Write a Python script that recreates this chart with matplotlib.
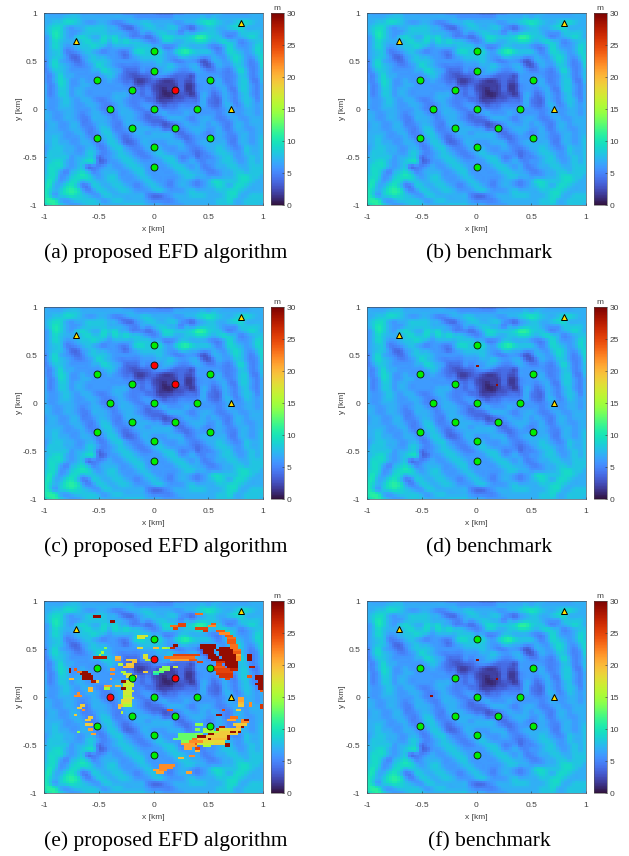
import numpy as np
import matplotlib
matplotlib.use("Agg")
import matplotlib.pyplot as plt

W, H = 629, 856
# base error field, hex digit per cell (digit - 1 = metres); rows y=1..-1, cols x=-1..1, step 0.05
field_rows = [
"8777788777 7777766666 6 5556677777 7877777888",
"8888999888 8888888777 7 7778888898 9888888888",
"8899aa9877 8876678899 8 8887788 9ab a988 9aa988",
"89aa878899 9988655789 9 8899765789 988 9aa8888",
"89ba877899 9988876687 8 9988687899 9877799998",
"78ba879a98 8a9a886665 6 8aa999acca 9976789a98",
"78a98889a9 9a8a9a9987 6 7998899aa9 89a9867899",
"78a977899a 9878888999 8 8667998887 668a877 8a9",
"7899667898 7677668aa9 a a879bca999 768a9878a9",
"7899755789 8877657899 9 9877998877 8779a9779a",
"68a8765689 9987777788 8 9876677645 887 8a9768a",
"68a9876678 a987666677 7 8898778854 6877997 67a",
"6799877778 8a98755576 7 7887667876 6766 8a8679",
"768a887777 7898654455 6 7765554777 776679 8679",
"768a977877 7787655334 5 4334544777 7866799669",
"867a977887 7777766445 4 3333533677 7876799768",
"8679978877 7777776656 4 3233533677 6786699768",
"8679978877 7778886656 5 3223443587 5687689768",
"8778987887 6678876665 5 3334455586 5587689868",
"8778987788 7667876677 6 5455666686 5588679878",
"8778887778 7667887667 7 7666777777 6678778878",
"8877887678 8766888765 6 7877787777 7678778878",
"8877887668 8876788765 5 5688876788 7667877888",
"7887788667 8876688876 5 5456787787 8766887888",
"7887788766 8986678888 7 7555678887 7866887788",
"8888778866 7997667887 8 8886567876 7876788788",
"8898777876 7898656788 8 8887656777 7876688789",
"8898877887 6799755688 7 7788866788 8886688789",
"7899887788 6689976678 8 8777876678 8987679889",
"7999887799 7678987667 8 9877776567 8998779889",
"8999978899 5678998766 7 8998667566 7899778989",
"89aa8789aa 5577899877 7 7899778767 7899878989",
"8aaa878956 6787789987 7 7789987866 7889988999",
"8aa8689a86 7888778997 7 7778998876 6788998999",
"9aa779aba8 7899777898 7 7777899887 7788 9aa998",
"9b978aa899 8899877789 8 7767887678 aa999aa988",
"ab88ab9669 9889987678 9 8767887678 9a98aa9888",
"ba89bcb867 9988998777 8 9877789888 89 9aa98888",
"ba79aba987 7998888886 5 5678889998 889aa88999",
"bcb8789999 8789988887 6 6667888888 899a889999",
"abca877899 9888899998 8 8777788888 8999889998",
]
field_digits = [[int(ch, 16) - 1 for ch in row.replace(" ", "")[:41].ljust(41, "8")] for row in field_rows]
field = np.array(field_digits, dtype=float)
grid_axis = np.linspace(-1, 1, 41)

# anomaly runs for panel (e): y, x start, x end, error in m
runs_e = [
 # upper right blobs
 (.525,.43,.56,29),(.5,.44,.575,29),(.5,.6,.68,29),(.475,.455,.545,29),(.475,.59,.71,29),
 (.45,.47,.545,29),(.45,.62,.73,29),(.425,.5,.575,29),(.425,.62,.74,29),(.4,.52,.6,29),(.4,.64,.76,29),
 (.375,.54,.64,29),(.375,.65,.76,29),(.35,.575,.65,26),(.35,.65,.76,29),(.325,.59,.625,25),(.325,.65,.76,29),
 (.3,.56,.65,24),(.3,.68,.76,29),(.275,.56,.68,25),(.275,.71,.76,27),(.25,.59,.71,25),(.225,.59,.71,26),
 (.2,.62,.71,26),(.175,.65,.7,25),
 # upper ring
 (.85,.39,.43,23),(.75,.24,.3,25),(.725,.24,.3,25),(.725,.16,.21,23),(.7,.18,.21,25),(.7,.38,.41,25),(.7,.43,.5,25),
 (.75,.53,.56,24),(.725,.5,.575,22),(.675,.47,.5,26),(.675,.575,.65,24),(.65,.62,.68,22),(.625,.65,.71,24),
 (.6,.68,.73,23),(.575,.68,.74,24),(.55,.68,.74,24),(.525,.71,.76,23),(.5,.71,.76,23),(.475,.74,.79,23),(.45,.74,.79,24),
 (.425,.76,.8,21),(.4,.77,.8,22),(.375,.77,.8,22),
 (.425,.87,.9,29),(.4,.87,.9,29),(.375,.87,.9,29),(.3,.89,.92,28),(.2,.87,.9,24),
 (.2,.94,1.0,29),(.175,.94,1.0,29),(.15,.96,1.0,29),(.125,.94,1.0,29),(.1,.96,1.0,29),(.075,.96,1.0,29),(.05,.98,1.0,24),
 # mid bar
 (.425,.18,.41,25),(.4,.12,.36,23),(.375,.17,.32,21),(.375,.33,.38,24),(.35,.41,.43,25),
 (.525,.19,.21,29),(.5,.17,.19,27),(.5,.12,.14,14),(.5,.09,.115,16),(.5,0,.04,20),
 (.3,.085,.145,14),(.275,.07,.15,14),(.25,0,.1,12),(.225,0,.05,10),(.3,.19,.21,17),
 # upper left
 (.825,-.53,-.485,29),(.775,-.38,-.36,29),(.625,-.135,-.07,17),(.6,-.135,-.08,17),(.5,-.45,-.43,14),
 (.45,-.475,-.45,15),(.425,-.5,-.48,16),(.4,-.53,-.43,28),(.5,-.135,-.115,18),(.4,-.35,-.31,20),(.4,-.1,-.06,18),
 (.425,-.1,-.07,17),(.375,-.34,-.31,21),(.375,-.23,-.17,19),(.375,-.06,-.02,16),(.35,-.2,-.17,20),(.325,-.32,-.28,16),
 (.325,-.23,-.18,19),(.3,-.27,-.18,20),(.275,-.77,-.75,29),(.275,-.72,-.7,24),(.275,-.38,-.36,22),(.25,-.77,-.75,29),
 (.25,-.69,-.67,23),(.25,-.64,-.62,29),(.25,-.29,-.26,15),(.25,-.09,-.07,19),(.225,-.67,-.58,29),(.225,-.38,-.36,22),
 (.225,-.26,-.2,17),(.2,-.63,-.56,29),(.2,-.23,-.16,18),(.175,-.63,-.55,29),(.175,-.76,-.74,20),(.175,-.4,-.38,21),
 (.15,-.56,-.52,28),(.15,-.52,-.5,19),(.15,-.28,-.25,29),(.15,-.25,-.2,17),(.125,-.27,-.18,16),(.1,-.45,-.38,21),
 (.1,-.35,-.32,20),(.1,-.27,-.18,17),(.075,-.58,-.56,20),(.075,-.44,-.41,15),(.075,-.28,-.26,29),(.075,-.24,-.2,16),
 (.05,-.58,-.56,20),(.05,-.27,-.18,17),(.025,-.7,-.68,22),(.025,-.27,-.2,17),
 (.02,-.71,-.68,22),(0,-.68,-.65,22),(0,-.27,-.2,16),(-.025,-.27,-.18,17),(-.05,-.28,-.2,18),(-.075,-.3,-.22,17),
 (-.1,-.32,-.28,20),(-.1,-.27,-.22,15),(-.125,-.32,-.3,19),(-.175,-.3,-.28,16),
 (-.1,-.66,-.64,19),(-.125,-.7,-.65,19),(-.15,-.65,-.63,22),(-.2,-.72,-.7,19),(-.225,-.6,-.57,19),(-.25,-.62,-.58,19),
 (-.3,-.62,-.55,19),(-.35,-.6,-.55,21),(-.4,-.57,-.54,21),(-.375,-.7,-.68,14),
 # lower right
 (-.25,.82,.86,22),(-.25,.83,.855,29),(-.275,.82,.86,22),(-.3,.73,.83,19),(-.325,.77,.82,20),(-.325,.62,.65,28),
 (-.325,.8,.825,29),(-.35,.68,.7,29),(-.35,.45,.55,15),(-.35,.59,.73,18),(-.35,.72,.79,19),(-.35,.575,.6,28),
 (-.375,.45,.6,15),(-.375,.6,.77,19),(-.375,.72,.75,29),(-.375,.78,.8,29),
 (-.4,.23,.36,13),(-.4,.38,.45,14),(-.4,.55,.77,19),(-.4,.515,.54,29),
 (-.425,.23,.42,13),(-.425,.42,.485,29),(-.425,.485,.68,19),(-.425,.68,.7,29),
 (-.45,.18,.36,13),(-.45,.36,.41,23),(-.45,.41,.515,19),(-.45,.515,.54,29),(-.45,.54,.67,20),(-.45,.68,.7,29),
 (-.475,.26,.33,14),(-.475,.33,.45,22),(-.475,.45,.65,18),
 (-.5,.27,.38,21),(-.5,.38,.41,24),(-.5,.41,.53,17),(-.5,.55,.64,19),(-.5,.65,.68,29),
 (-.525,.29,.39,21),(-.525,.45,.52,15),(-.525,.65,.68,29),(-.55,.29,.35,21),(-.55,.38,.41,25),(-.575,.39,.42,20),
 (-.15,.14,.16,24),(-.2,.585,.605,29),(-.15,.63,.65,25),(-.25,.68,.75,21),(-.225,.71,.76,23),(-.15,.76,.78,19),
 (-.025,.78,.825,21),(-.05,.78,.825,21),(-.075,.78,.82,20),(-.1,.78,.82,19),(-.075,.88,.9,22),(-.1,.88,.9,22),
 (-.1,.985,1.0,26),(-.125,.985,1.0,26),(-.3,.39,.44,14),(-.35,.38,.41,14),
 # bottom arc
 (-.725,.06,.2,22),(-.75,.06,.17,22),(-.775,.06,.12,22),(-.775,0,.035,21),(-.8,.035,.09,21),(-.8,.3,.33,21),
 (-.65,.24,.26,20),(-.625,.34,.36,22),
]

def upsample(z, ax, new):
    # bicubic (Catmull-Rom) resampling of the estimated field
    step = ax[1] - ax[0]
    def w(t):
        t = np.abs(t)
        return np.where(t < 1, 1.5*t**3 - 2.5*t**2 + 1,
                        np.where(t < 2, -0.5*t**3 + 2.5*t**2 - 4*t + 2, 0))
    Wm = w((new[:, None] - ax[None, :]) / step)
    Wm /= Wm.sum(axis=1, keepdims=True)
    return Wm @ z @ Wm.T

cell = 0.025
fine = np.linspace(-1 + cell/2, 1 - cell/2, 80)
base = upsample(field[::-1], grid_axis, fine)  # index 0 = y=-1

overlay = np.full(base.shape, np.nan)
for y, x0, x1, v in runs_e:
    r = int(np.clip((y + 1)/cell + .01, 0, 79))
    c0 = int(np.clip((x0 + 1)/cell + .01, 0, 79))
    c1 = int(np.clip((x1 + 1)/cell - .01, c0, 79))
    overlay[r, c0:c1 + 1] = v

sensor_x = [0, 0, 0, 0, 0, .2, .2, -.2, -.2, .4, -.4, .52, .52, -.52, -.52]
sensor_y = [0, .4, .6, -.4, -.6, .2, -.2, .2, -.2, 0, 0, .3, -.3, .3, -.3]
anchor_x = [-.71, .8, .71]
anchor_y = [.71, .9, 0]

captions = ["(a) proposed EFD algorithm", "(b) benchmark",
            "(c) proposed EFD algorithm", "(d) benchmark",
            "(e) proposed EFD algorithm", "(f) benchmark"]
red_by_panel = [[(.2, .2)], [(.2, .2)],
                [(.2, .2), (0, .4)], [(.2, .2), (0, .4)],
                [(.2, .2), (0, .4), (-.4, 0)], [(.2, .2), (0, .4), (-.4, 0)]]
ticks = [-1, -.5, 0, .5, 1]
tick_text = ["-1", "-0.5", "0", "0.5", "1"]
cb_ticks = [0, 5, 10, 15, 20, 25, 30]

lefts = [44, 367]
tops = [13, 307, 601]
cap_x = [166, 489]
ax_w, ax_h = 219, 192
gray = "#404040"
sans = "Liberation Sans"

fig = plt.figure(figsize=(W/100, H/100), dpi=100)

def box(l, t, w, h):
    return [l/W, 1 - (t + h)/H, w/W, h/H]

for idx, cap in enumerate(captions):
    row, col = idx // 2, idx % 2
    l, t = lefts[col], tops[row]
    ax = fig.add_axes(box(l, t, ax_w, ax_h))
    z = base.copy()
    is_proposed = col == 0
    if idx == 4:
        z = np.where(np.isnan(overlay), z, overlay)
    if not is_proposed and row > 0:
        for (px, py) in red_by_panel[idx]:
            z[int((py + 1)/cell), int((px + 1)/cell)] = 29
    im = ax.imshow(z, origin="lower", extent=[-1, 1, -1, 1], cmap="turbo",
                   vmin=0, vmax=30, aspect="auto", interpolation="nearest")
    reds = red_by_panel[idx]
    gx, gy = [], []
    for sx, sy in zip(sensor_x, sensor_y):
        if (sx, sy) in reds:
            continue
        gx.append(sx); gy.append(sy)
    ax.plot(gx, gy, ls="none", marker="o", ms=5, mfc="#00ee00", mec="#111111", mew=.6)
    if is_proposed:
        ax.plot(*zip(*reds), ls="none", marker="o", ms=5, mfc="#ff0000", mec="#111111", mew=.6)
    ax.plot(anchor_x, anchor_y, ls="none", marker="^", ms=4.6, mfc="#ffe000", mec="black", mew=.7)
    ax.set_xlim(-1, 1); ax.set_ylim(-1, 1)
    ax.set_xticks(ticks, tick_text, family=sans); ax.set_yticks(ticks, tick_text, family=sans)
    ax.tick_params(direction="in", length=1.6, width=.4, color="#303030",
                   labelsize=6, labelcolor=gray)
    ax.tick_params(axis="x", pad=6.5)
    ax.tick_params(axis="y", pad=5)
    ax.set_xlabel("x [km]", fontsize=6, color=gray, labelpad=3.5, family=sans)
    ax.set_ylabel("y [km]", fontsize=6, color=gray, labelpad=-.5, family=sans)
    for s in ax.spines.values():
        s.set_linewidth(.5); s.set_color("#405060")
    cax = fig.add_axes(box(l + 227, t, 12.5, ax_h))
    cb = fig.colorbar(im, cax=cax)
    cb.set_ticks(cb_ticks)
    for lab in cax.get_yticklabels():
        lab.set_family(sans)
    cax.tick_params(direction="in", length=1.5, width=.4, color="#303030",
                    labelsize=6, labelcolor=gray, pad=2)
    cb.outline.set_linewidth(.4); cb.outline.set_edgecolor("#505050")
    cax.set_title("m", fontsize=6, color=gray, pad=2, family=sans)
    fig.text(cap_x[col]/W, 1 - (t + 245)/H, cap, ha="center", va="baseline",
             family="Liberation Serif", fontsize=15.5, color="black")

fig.savefig("out.png", dpi=100)
